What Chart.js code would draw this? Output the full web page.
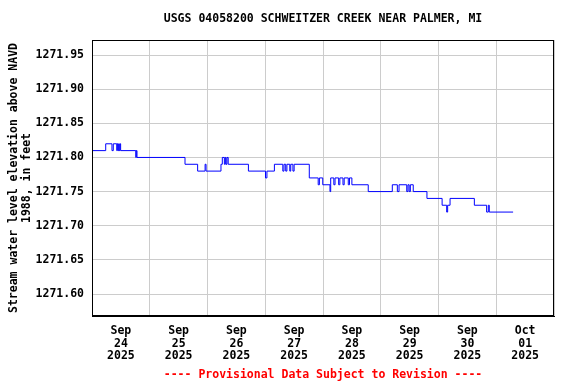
<!DOCTYPE html>
<html>
<head>
<meta charset="utf-8">
<script src="https://cdn.jsdelivr.net/npm/chart.js@4/dist/chart.umd.min.js"></script>
<style>
html,body{margin:0;padding:0;background:#fff;}
#wrap{width:576px;height:384px;position:relative;}
</style>
</head>
<body>
<div id="wrap"><canvas id="c" width="576" height="384"></canvas></div>
<script>
const titleText = "USGS 04058200 SCHWEITZER CREEK NEAR PALMER, MI";
const footerText = "---- Provisional Data Subject to Revision ----";
const yAxisTitle = ["Stream water level elevation above NAVD", "1988, in feet"];
// hours since 2025-09-24 00:00
const timesH = [0, 5.7, 8.3, 8.85, 10.3, 10.5, 10.8, 11.1, 11.3, 11.6, 11.9, 18.2, 18.4, 18.7,
  38.65, 43.9, 47.0, 47.4, 53.6, 54.15, 55.0, 55.4, 55.7, 56.1, 56.6, 65.0, 72.1, 72.7, 75.8,
  79.3, 79.8, 80.5, 81.0, 82.2, 82.6, 83.5, 84.0, 90.3, 94.0, 94.5, 95.9, 98.9, 99.2,
  100.5, 101.0, 102.5, 103.0, 104.3, 104.8, 106.5, 107.0, 108.0, 114.8, 124.8, 126.9, 127.6,
  130.8, 131.3, 131.8, 132.3, 133.5, 139.2, 145.5, 147.4, 147.8, 148.8, 158.9, 164.0, 164.7, 165.1, 175.0];
const values = [1271.81, 1271.82, 1271.81, 1271.82, 1271.81, 1271.82, 1271.81, 1271.82, 1271.81, 1271.82, 1271.81, 1271.80, 1271.81, 1271.80,
  1271.79, 1271.78, 1271.79, 1271.78, 1271.79, 1271.80, 1271.79, 1271.80, 1271.79, 1271.80, 1271.79, 1271.78, 1271.77, 1271.78, 1271.79,
  1271.78, 1271.79, 1271.78, 1271.79, 1271.78, 1271.79, 1271.78, 1271.79, 1271.77, 1271.76, 1271.77, 1271.76, 1271.75, 1271.77,
  1271.76, 1271.77, 1271.76, 1271.77, 1271.76, 1271.77, 1271.76, 1271.77, 1271.76, 1271.75, 1271.76, 1271.75, 1271.76,
  1271.75, 1271.76, 1271.75, 1271.76, 1271.75, 1271.74, 1271.73, 1271.72, 1271.73, 1271.74, 1271.73, 1271.72, 1271.73, 1271.72, 1271.72];
const dayLabels = [["Sep","24","2025"],["Sep","25","2025"],["Sep","26","2025"],["Sep","27","2025"],
  ["Sep","28","2025"],["Sep","29","2025"],["Sep","30","2025"],["Oct","01","2025"]];
const yTicks = [1271.60, 1271.65, 1271.70, 1271.75, 1271.80, 1271.85, 1271.90, 1271.95];

const FONT = "'DejaVu Sans Mono', monospace";
const points = timesH.map((t, i) => ({x: t, y: values[i]}));

const decor = {
  id: 'decor',
  afterDraw(chart) {
    const {ctx, chartArea: a} = chart;
    ctx.save();
    ctx.strokeStyle = '#000';
    ctx.lineWidth = 1;
    ctx.strokeRect(a.left + 0.5, a.top + 0.5, a.right - a.left - 1, a.bottom - a.top - 1);
    const cx = (a.left + a.right) / 2;
    ctx.textAlign = 'center';
    ctx.textBaseline = 'middle';
    ctx.font = "bold 11.5px " + FONT;
    ctx.fillStyle = '#000';
    ctx.fillText(titleText, cx, 19);
    ctx.fillStyle = '#ff0000';
    ctx.fillText(footerText, cx, 375);
    ctx.restore();
  }
};

new Chart(document.getElementById('c'), {
  type: 'line',
  data: {
    datasets: [{
      data: points,
      borderColor: '#0000ff',
      borderWidth: 1,
      pointRadius: 0,
      stepped: 'before',
      fill: false
    }]
  },
  options: {
    responsive: false,
    animation: false,
    layout: {padding: {top: 40, right: 22, left: 0, bottom: 0}},
    plugins: {legend: {display: false}, tooltip: {enabled: false}, title: {display: false}},
    scales: {
      x: {
        type: 'linear',
        min: 0, max: 192,
        afterBuildTicks(scale) {
          const t = [];
          for (let h = 0; h <= 192; h += 12) t.push({value: h});
          scale.ticks = t;
        },
        afterFit(scale) { scale.height = 68; },
        ticks: {
          autoSkip: false, maxRotation: 0,
          padding: 9,
          color: '#000',
          font: {family: FONT, size: 11.5, weight: 'bold', lineHeight: 1.08},
          callback(v) {
            if (v % 24 === 12) return dayLabels[(v - 12) / 24];
            return '';
          }
        },
        grid: {
          drawTicks: false,
          color(ctx) { return (ctx.tick && ctx.tick.value % 24 === 0) ? '#cccccc' : 'rgba(0,0,0,0)'; },
          lineWidth: 1
        },
        border: {display: true, color: '#000'}
      },
      y: {
        type: 'linear',
        min: 1271.5678, max: 1271.972,
        afterBuildTicks(scale) { scale.ticks = yTicks.map(v => ({value: v})); },
        afterFit(scale) { scale.width = 92; },
        ticks: {
          padding: 8,
          color: '#000',
          font: {family: FONT, size: 11.5, weight: 'bold'},
          callback(v) { return Number(v).toFixed(2); }
        },
        grid: {drawTicks: false, color: '#cccccc', lineWidth: 1},
        border: {display: true, color: '#000'},
        title: {
          display: true,
          text: yAxisTitle,
          color: '#000',
          font: {family: FONT, size: 11.5, weight: 'bold', lineHeight: 1.1},
          padding: {top: 8, bottom: 0}
        }
      }
    }
  },
  plugins: [decor]
});
</script>
</body>
</html>
